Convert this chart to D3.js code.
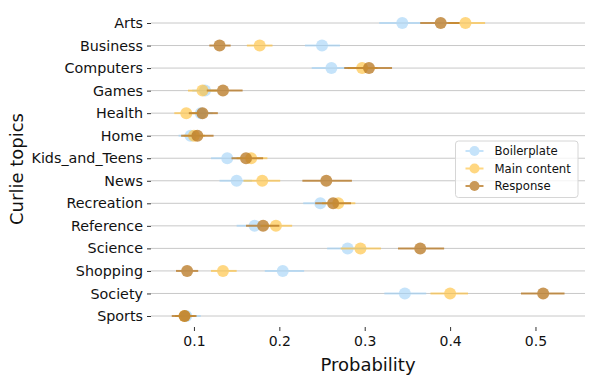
<!DOCTYPE html>
<html lang="en">
<head>
    <meta charset="UTF-8">
    <title>Curlie topics</title>
    <script src="https://d3js.org/d3.v7.min.js"></script>
    <style>
        body { margin: 0; background: #fff; }
        text { font-family: "DejaVu Sans", sans-serif; fill: #111; }
    </style>
</head>
<body>
    <div id="chart-container"></div>
    <script>
        const topics = ["Arts", "Business", "Computers", "Games", "Health", "Home", "Kids_and_Teens",
            "News", "Recreation", "Reference", "Science", "Shopping", "Society", "Sports"];

        // point estimate, lower, upper for each series
        const boilerplate = [0.344, 0.250, 0.261, 0.113, 0.108, 0.096, 0.139, 0.150, 0.248, 0.171, 0.280, 0.204, 0.347, 0.091];
        const boilerplateLo = [0.317, 0.230, 0.238, 0.098, 0.094, 0.082, 0.120, 0.130, 0.228, 0.150, 0.256, 0.183, 0.323, 0.078];
        const boilerplateHi = [0.366, 0.271, 0.282, 0.128, 0.122, 0.110, 0.157, 0.168, 0.266, 0.190, 0.302, 0.229, 0.372, 0.108];

        const mainContent = [0.418, 0.177, 0.297, 0.110, 0.091, 0.100, 0.167, 0.180, 0.269, 0.196, 0.295, 0.134, 0.400, 0.089];
        const mainLo = [0.398, 0.162, 0.280, 0.093, 0.077, 0.088, 0.150, 0.158, 0.250, 0.178, 0.272, 0.120, 0.377, 0.078];
        const mainHi = [0.441, 0.192, 0.315, 0.127, 0.106, 0.113, 0.186, 0.201, 0.289, 0.215, 0.319, 0.150, 0.421, 0.101];

        const response = [0.389, 0.130, 0.305, 0.134, 0.110, 0.104, 0.161, 0.255, 0.263, 0.181, 0.365, 0.092, 0.509, 0.089];
        const responseLo = [0.365, 0.118, 0.276, 0.115, 0.094, 0.085, 0.144, 0.227, 0.242, 0.161, 0.339, 0.079, 0.483, 0.074];
        const responseHi = [0.411, 0.143, 0.332, 0.157, 0.128, 0.123, 0.181, 0.285, 0.284, 0.200, 0.393, 0.105, 0.534, 0.103];

        const xTicks = [0.1, 0.2, 0.3, 0.4, 0.5];

        const series = [
            { name: "Boilerplate", v: boilerplate, lo: boilerplateLo, hi: boilerplateHi, color: "#9fd2f8", op: 0.6 },
            { name: "Main content", v: mainContent, lo: mainLo, hi: mainHi, color: "#ffc23f", op: 0.65 },
            { name: "Response", v: response, lo: responseLo, hi: responseHi, color: "#b8761f", op: 0.75 }
        ];

        const W = 593, H = 384;
        const plotLeft = 151, plotRight = 585, plotTop = 23, plotBottom = 316;

        const svg = d3.select("#chart-container")
            .append("svg")
            .attr("width", W)
            .attr("height", H);

        const x = d3.scaleLinear()
            .domain([0.0497, 0.558])
            .range([plotLeft, plotRight]);

        const y = d3.scalePoint()
            .domain(topics)
            .range([plotTop, plotBottom]);

        // grid lines
        svg.append("g")
            .selectAll("line")
            .data(topics)
            .enter()
            .append("line")
            .attr("x1", plotLeft)
            .attr("x2", plotRight)
            .attr("y1", d => y(d))
            .attr("y2", d => y(d))
            .style("stroke", "#c8c8c8")
            .style("stroke-width", 1);

        // y axis
        const yAxis = svg.append("g")
            .attr("transform", `translate(${plotLeft},0)`)
            .call(d3.axisLeft(y).tickSize(4).tickPadding(4));
        yAxis.select(".domain").remove();
        yAxis.selectAll("line").style("stroke", "#333");
        yAxis.selectAll("text").style("font-size", "14.3px").style("fill", "#111");

        // x axis
        const xAxis = svg.append("g")
            .attr("transform", `translate(0,${plotBottom + 11})`)
            .call(d3.axisBottom(x).tickValues(xTicks).tickFormat(d3.format(".1f")).tickSize(4).tickPadding(5));
        xAxis.select(".domain").remove();
        xAxis.selectAll("line").style("stroke", "#333");
        xAxis.selectAll("text").style("font-size", "14px").style("fill", "#111");

        // axis labels
        svg.append("text")
            .attr("x", 368)
            .attr("y", 371)
            .attr("text-anchor", "middle")
            .style("font-size", "18px")
            .text("Probability");

        svg.append("text")
            .attr("transform", `translate(23,${169}) rotate(-90)`)
            .attr("text-anchor", "middle")
            .style("font-size", "18px")
            .text("Curlie topics");

        // error bars and points
        series.forEach(s => {
            const g = svg.append("g").style("opacity", s.op);
            g.selectAll("line")
                .data(topics)
                .enter()
                .append("line")
                .attr("x1", (d, i) => x(s.lo[i]))
                .attr("x2", (d, i) => x(s.hi[i]))
                .attr("y1", d => y(d))
                .attr("y2", d => y(d))
                .style("stroke", s.color)
                .style("stroke-width", 2);
            g.selectAll("circle")
                .data(topics)
                .enter()
                .append("circle")
                .attr("cx", (d, i) => x(s.v[i]))
                .attr("cy", d => y(d))
                .attr("r", 6)
                .style("fill", s.color);
        });

        // legend
        const lg = svg.append("g").attr("transform", "translate(455.5,141)");
        lg.append("rect")
            .attr("width", 122.5)
            .attr("height", 56.5)
            .attr("rx", 3)
            .style("fill", "#fff")
            .style("fill-opacity", 0.8)
            .style("stroke", "#d6d6d6");
        series.forEach((s, i) => {
            const row = lg.append("g")
                .attr("transform", `translate(0,${10 + i * 17.5})`)
                .style("opacity", s.op);
            row.append("line")
                .attr("x1", 10).attr("x2", 28)
                .style("stroke", s.color)
                .style("stroke-width", 2);
            row.append("circle")
                .attr("cx", 19)
                .attr("r", 5)
                .style("fill", s.color);
            lg.append("text")
                .attr("x", 39)
                .attr("y", 10 + i * 17.5)
                .attr("dy", "0.35em")
                .style("font-size", "11.7px")
                .text(s.name);
        });
    </script>
</body>
</html>
